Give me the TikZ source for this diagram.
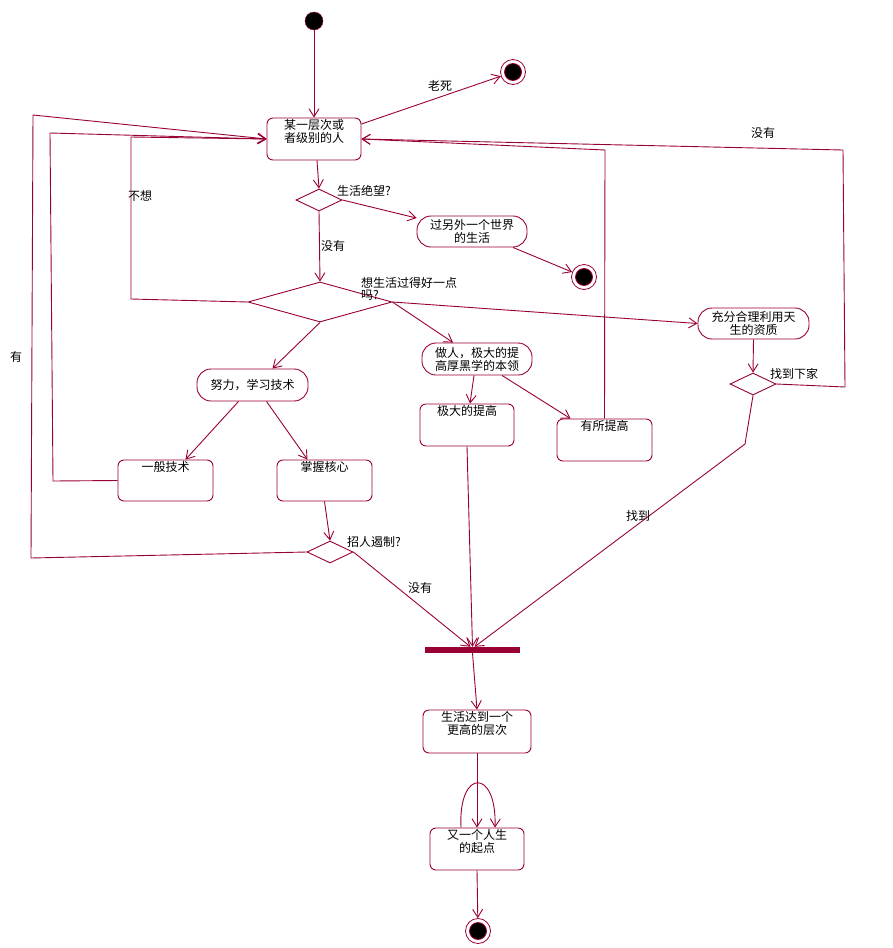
\documentclass[tikz,border=0pt]{standalone}
\usepackage{fontspec}
\setmainfont{Noto Sans CJK SC}
\usetikzlibrary{arrows.meta,shapes.geometric,calc}
\definecolor{mr}{HTML}{990033}
\newcommand\stxt[3]{\begin{minipage}[c][#2][t]{#1}\centering\vspace*{1pt}#3\end{minipage}}
\tikzset{
  ln/.style={draw=mr, line width=0.9pt},
  arr/.style={ln, -{Straight Barb[length=8pt,width=10pt]}},
  statebox/.style={ln, rectangle, rounded corners=6pt, inner sep=0pt},
  actbox/.style={ln, rectangle, rounded corners=14pt, inner sep=0pt, align=center, minimum width=110pt, minimum height=31pt},
  dia/.style={ln, diamond, inner sep=0pt, minimum width=46pt, minimum height=22pt},
  startst/.style={circle, draw=mr, fill=black, minimum size=18pt, inner sep=0pt},
  endst/.style={circle, draw=mr, minimum size=25pt, inner sep=0pt, line width=0.8pt,
    path picture={\filldraw[fill=black,draw=mr] (path picture bounding box.center) circle (8.5pt);}},
  lbl/.style={inner sep=0pt, font=\fontsize{12}{13}\selectfont},
}
\begin{document}
\begin{tikzpicture}[x=1pt,y=-1pt, font=\fontsize{12}{13}\selectfont]
\useasboundingbox (0,0) rectangle (893,948);
% nodes
\node[startst] (st) at (314,21) {};
\node[statebox] (A) at (314,139) {\stxt{94pt}{42pt}{某一层次或\\者级别的人}};
\node[endst] (e1) at (513,72) {};
\node[dia] (D1) at (319,200) {};
\node[actbox] (W) at (472,231.5) {过另外一个世界\\的生活};
\node[endst] (e2) at (584,277) {};
\node[dia, minimum width=144pt, minimum height=40pt] (D2) at (320,302) {};
\node[actbox, minimum width=111pt, minimum height=32pt] (N) at (252.5,385) {努力，学习技术};
\node[actbox, minimum height=32pt] (Z) at (477,359) {做人，极大的提\\高厚黑学的本领};
\node[actbox, minimum width=111pt] (C) at (753.5,323.5) {充分合理利用天\\生的资质};
\node[statebox] (G) at (165.5,480.5) {\stxt{95pt}{41pt}{一般技术}};
\node[statebox] (H) at (324.5,480.5) {\stxt{95pt}{41pt}{掌握核心}};
\node[statebox] (J) at (467,425) {\stxt{94pt}{42pt}{极大的提高}};
\node[statebox] (Y) at (604.5,440) {\stxt{95pt}{42pt}{有所提高}};
\node[dia] (D3) at (330,552) {};
\node[dia] (D4) at (753,384) {};
\node[fill=mr, minimum width=95pt, minimum height=6pt, inner sep=0pt] (bar) at (472.5,650) {};
\node[statebox] (L) at (477,731.5) {\stxt{108pt}{43pt}{生活达到一个\\更高的层次}};
\node[statebox] (S) at (477,849) {\stxt{94pt}{42pt}{又一个人生\\的起点}};
\node[endst] (e3) at (478,931) {};
% bend coordinates
\coordinate (c1) at (131,299);
\coordinate (c2) at (131,137);
\coordinate (g1) at (53,481);
\coordinate (g2) at (50,133);
\coordinate (h1) at (31,558);
\coordinate (h2) at (33,115);
\coordinate (y1) at (605,150);
\coordinate (d1) at (845,387);
\coordinate (d2) at (843,150);
\coordinate (f1) at (745,444);
% connectors
\draw[arr] (st) -- (A.north);
\draw[arr] ($(A.east)+(0,-15)$) -- (e1);
\draw[arr] ($(A.south)+(3,0)$) -- (D1.north);
\draw[arr] (D1.east) -- (W);
\draw[arr] ($(W.south)+(41,0)$) -- (e2);
\draw[arr] (D1.south) -- (D2.north);
\draw[arr] (D2.west) -- (c1) -- (c2) -- (A.west);
\draw[arr] (D2.east) -- (C.west);
\draw[arr] (D2.south) -- ($(N.north)+(20,0)$);
\draw[arr] (D2.east) -- ($(Z.north)+(-24,0)$);
\draw[arr] ($(N.south)+(-14,0)$) -- ($(G.north)+(20,0)$);
\draw[arr] ($(N.south)+(14,0)$) -- ($(H.north)+(-17,0)$);
\draw[arr] (G.west) -- (g1) -- (g2) -- (A.west);
\draw[arr] (H.south) -- (D3.north);
\draw[arr] (D3.west) -- (h1) -- (h2) -- (A.west);
\draw[arr] (D3.east) -- ($(bar.north)+(-2,0)$);
\draw[arr] ($(Z.south)+(-3,0)$) -- ($(J.north)+(3,0)$);
\draw[arr] ($(Z.south)+(25,0)$) -- ($(Y.north)+(-34,0)$);
\draw[arr] (Y.north) -- (y1) -- (A.east);
\draw[arr] (J.south) -- (bar.north);
\draw[arr] (C.south) -- (D4.north);
\draw[arr] (D4.east) -- (d1) -- (d2) -- (A.east);
\draw[arr] (D4.south) -- (f1) -- ($(bar.north)+(2,0)$);
\draw[arr] (bar.south) -- (L.north);
\draw[arr] (L.south) -- (S.north);
\draw[arr] ($(S.north)+(-16,0)$) .. controls (458,768) and (497,768) .. ($(S.north)+(18,0)$);
\draw[arr] (S.south) -- (e3);
% labels
\node[lbl] (t1) at (440,86) {老死};
\node[lbl, anchor=west] (t2) at (337,191) {生活绝望?};
\node[lbl] (t3) at (333,246) {没有};
\node[lbl] (t4) at (140,196) {不想};
\node[lbl, anchor=west, align=left, font=\fontsize{12}{12}\selectfont] (t5) at (361,289) {想生活过得好一点\\吗?};
\node[lbl] (t6) at (16,357) {有};
\node[lbl, anchor=west] (t7) at (347,542) {招人遏制?};
\node[lbl] (t8) at (420,588) {没有};
\node[lbl] (t9) at (638,516) {找到};
\node[lbl, anchor=west] (t10) at (770,374) {找到下家};
\node[lbl] (t11) at (763,133) {没有};
\end{tikzpicture}
\end{document}
